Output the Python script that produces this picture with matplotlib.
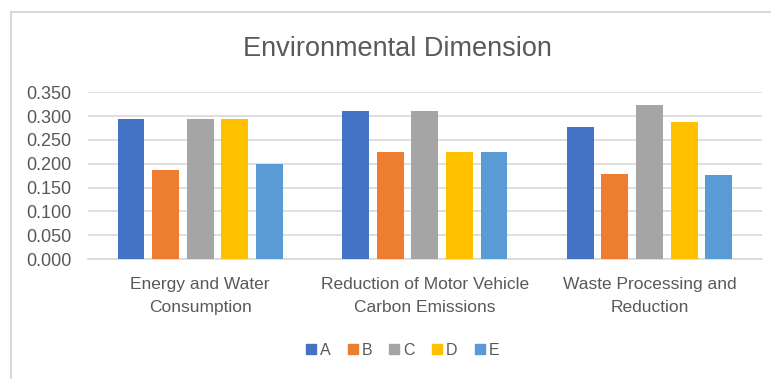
import numpy as np
import matplotlib.pyplot as plt
from matplotlib.lines import Line2D

plt.rcParams['font.family'] = ['Liberation Sans', 'DejaVu Sans']

# Scores per dimension category
categories = ['Energy and Water\nConsumption',
              'Reduction of Motor Vehicle\nCarbon Emissions',
              'Waste Processing and\nReduction']
series = ['A', 'B', 'C', 'D', 'E']
vals_a = [0.293, 0.311, 0.278]
vals_b = [0.186, 0.225, 0.179]
vals_c = [0.293, 0.311, 0.324]
vals_d = [0.293, 0.225, 0.287]
vals_e = [0.199, 0.225, 0.177]
colors = ['#4472C4', '#ED7D31', '#A5A5A5', '#FFC000', '#5B9BD5']

fig = plt.figure(figsize=(7.71, 3.79), dpi=100)
ax = fig.add_axes([0.114, 0.3166, 0.874, 0.44])

x = np.arange(len(categories))
step = 0.154
width = 0.12
for i, (name, vals) in enumerate(zip(series, [vals_a, vals_b, vals_c, vals_d, vals_e])):
    ax.bar(x + (i - 2) * step, vals, width, color=colors[i], label=name, zorder=3)

ax.set_xlim(-0.5, 2.5)
ax.set_ylim(0, 0.35)
ax.set_yticks(np.arange(0, 0.351, 0.05))
ax.set_yticklabels(['%.3f' % v for v in np.arange(0, 0.351, 0.05)])
ax.set_xticks(x)
ax.set_xticklabels(categories, linespacing=1.7)
ax.tick_params(axis='both', length=0, colors='#595959')
ax.tick_params(axis='x', pad=13, labelsize=12.5)
ax.tick_params(axis='y', pad=12, labelsize=13)
ax.grid(axis='y', color='#d9d9d9', linewidth=1.2, zorder=0)
for s in ['top', 'right', 'left']:
    ax.spines[s].set_visible(False)
ax.spines['bottom'].set_color('#d9d9d9')
ax.spines['bottom'].set_linewidth(1.2)

fig.text(0.516, 0.87, 'Environmental Dimension', ha='center', va='center',
         fontsize=19.5, color='#595959')

handles = [Line2D([], [], marker='s', linestyle='none', markersize=7,
                  color=c) for c in colors]
fig.legend(handles, series, loc='center', bbox_to_anchor=(0.52, 0.076), ncol=5,
           frameon=False, handletextpad=0.05, columnspacing=0.9,
           fontsize=11.5, labelcolor='#595959', handlelength=1.0)

# chart frame edges
fig.add_artist(Line2D([11 / 771, 1.0], [1 - 12 / 379, 1 - 12 / 379],
                      transform=fig.transFigure, color='#d9d9d9', linewidth=1.5))
fig.add_artist(Line2D([11 / 771, 11 / 771], [0, 1 - 12 / 379],
                      transform=fig.transFigure, color='#d9d9d9', linewidth=1.5))

fig.savefig('out.png', dpi=100)
